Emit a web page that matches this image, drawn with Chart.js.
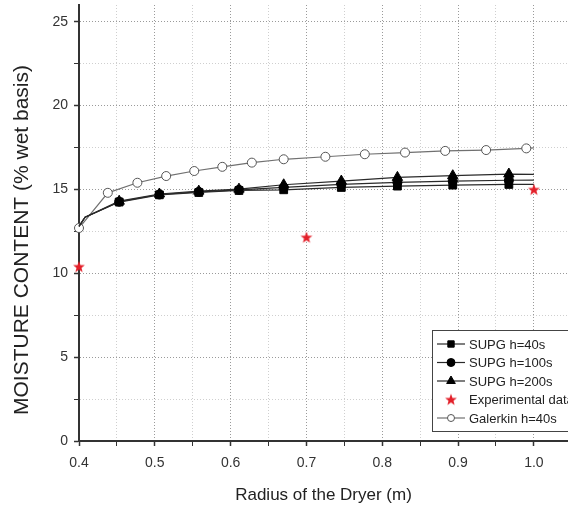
<!DOCTYPE html>
<html>
<head>
<meta charset="utf-8">
<script src="https://cdn.jsdelivr.net/npm/chart.js@4/dist/chart.umd.min.js"></script>
<style>
    html, body { margin: 0; padding: 0; background: #fff; overflow: hidden; }
</style>
</head>
<body>
<canvas id="dryerChart" width="568" height="510"></canvas>
<script>
// radius (m) and moisture content (% wet basis)
const radiusSupg = [0.4, 0.408, 0.453, 0.506, 0.558, 0.611, 0.670, 0.746, 0.820, 0.893, 0.967, 1.0];
const supg40  = [12.8, 13.35, 14.25, 14.68, 14.82, 14.94, 14.98, 15.12, 15.2, 15.26, 15.3, 15.3];
const supg100 = [12.8, 13.35, 14.27, 14.7, 14.86, 14.98, 15.12, 15.3, 15.42, 15.5, 15.55, 15.56];
const supg200 = [12.8, 13.35, 14.3, 14.73, 14.9, 15.02, 15.28, 15.5, 15.72, 15.82, 15.92, 15.9];

const radiusGalerkin = [0.4, 0.438, 0.477, 0.515, 0.552, 0.589, 0.628, 0.670, 0.725, 0.777, 0.830, 0.883, 0.937, 0.990, 1.0];
const galerkin40     = [12.7, 14.8, 15.4, 15.8, 16.1, 16.35, 16.6, 16.8, 16.95, 17.1, 17.2, 17.3, 17.35, 17.45, 17.48];

const radiusExp    = [0.4, 0.7, 1.0];
const experimental = [10.4, 12.15, 15.0];

const xTicks = [0.4, 0.45, 0.5, 0.55, 0.6, 0.65, 0.7, 0.75, 0.8, 0.85, 0.9, 0.95, 1.0];
const yTicks = [0, 2.5, 5, 7.5, 10, 12.5, 15, 17.5, 20, 22.5, 25];

const legendLabels = ["SUPG h=40s", "SUPG h=100s", "SUPG h=200s", "Experimental data", "Galerkin h=40s"];
const yTitle = "MOISTURE CONTENT (% wet basis)";

const FONT = "'Liberation Sans', Arial, sans-serif";
const toPoints = (xs, ys) => xs.map((x, i) => ({ x: x, y: ys[i] }));
const isMajor = (v, step) => Math.abs(v / step - Math.round(v / step)) < 1e-6;

// filled red star marker
const star = document.createElement("canvas");
star.width = 14; star.height = 14;
const sc = star.getContext("2d");
sc.fillStyle = "#e3202a";
sc.beginPath();
for (let i = 0; i < 10; i++) {
    const r = i % 2 ? 2.6 : 6.2;
    const a = -Math.PI / 2 + i * Math.PI / 5;
    sc.lineTo(7 + r * Math.cos(a), 7.5 + r * Math.sin(a));
}
sc.closePath();
sc.fill();

const supgMarker = ctx => (ctx.dataIndex >= 2 && ctx.dataIndex <= 10) ? ctx.dataset.markerSize : 0;

function supgSet(label, data, style, size) {
    return {
        label: label,
        data: toPoints(radiusSupg, data),
        borderColor: "#2a2a2a",
        backgroundColor: "#000",
        pointBorderColor: "#000",
        borderWidth: 1.2,
        pointStyle: style,
        markerSize: size,
        pointRadius: supgMarker,
        pointBorderWidth: 1,
        order: 1,
        clip: false
    };
}

// boxed legend inside the plot (lower right) + rotated y title
const boxLegend = {
    id: "boxLegend",
    afterDatasetsDraw(chart) {
        const c = chart.ctx;
        const left = 432, top = 330, rowH = 18.5;
        c.save();
        c.fillStyle = "#fff";
        c.strokeStyle = "#444";
        c.lineWidth = 1;
        c.fillRect(left, top, 160, 101);
        c.strokeRect(left + 0.5, top + 0.5, 160, 101);
        c.font = "13px " + FONT;
        c.textBaseline = "middle";
        chart.data.datasets.forEach((ds, i) => {
            const y = top + 14 + i * rowH;
            if (ds.showLine !== false) {
                c.strokeStyle = ds.borderColor;
                c.lineWidth = ds.borderWidth;
                c.beginPath();
                c.moveTo(437, y);
                c.lineTo(465, y);
                c.stroke();
            }
            c.fillStyle = ds.backgroundColor;
            c.strokeStyle = ds.pointBorderColor;
            c.lineWidth = ds.pointBorderWidth;
            Chart.helpers.drawPoint(c, {
                pointStyle: ds.pointStyle,
                rotation: 0,
                radius: ds.legendSize,
                borderWidth: ds.pointBorderWidth
            }, 451, y);
            c.fillStyle = "#222";
            c.fillText(legendLabels[i], 469, y + 1);
        });

        c.translate(22, 240);
        c.rotate(-Math.PI / 2);
        c.font = "21px " + FONT;
        c.textAlign = "center";
        c.fillStyle = "#222";
        c.fillText(yTitle, 0, 0);
        c.restore();
    }
};

const datasets = [
    Object.assign(supgSet(legendLabels[0], supg40, "rect", 5.5), { legendSize: 4.5 }),
    Object.assign(supgSet(legendLabels[1], supg100, "circle", 4.5), { legendSize: 4 }),
    Object.assign(supgSet(legendLabels[2], supg200, "triangle", 6), { legendSize: 5 }),
    {
        label: legendLabels[3],
        data: toPoints(radiusExp, experimental),
        showLine: false,
        borderColor: "#e3202a",
        backgroundColor: "#e3202a",
        pointBorderColor: "#e3202a",
        pointBorderWidth: 0,
        pointStyle: star,
        pointRadius: 6,
        legendSize: 6,
        order: 0,
        clip: false
    },
    {
        label: legendLabels[4],
        data: toPoints(radiusGalerkin, galerkin40),
        borderColor: "#707070",
        backgroundColor: "#fff",
        pointBackgroundColor: "#fff",
        pointBorderColor: "#555",
        pointBorderWidth: 1,
        borderWidth: 1.2,
        pointStyle: "circle",
        pointRadius: ctx => ctx.dataIndex === radiusGalerkin.length - 1 ? 0 : 4.5,
        legendSize: 3.5,
        order: 2,
        clip: false
    }
];

new Chart(document.getElementById("dryerChart"), {
    type: "line",
    data: { datasets: datasets },
    plugins: [boxLegend],
    options: {
        responsive: false,
        animation: false,
        layout: { autoPadding: false, padding: { top: 5, right: 0, left: 0, bottom: 0 } },
        plugins: { legend: { display: false }, tooltip: { enabled: false } },
        scales: {
            x: {
                type: "linear",
                min: 0.4,
                max: 1.045,
                afterBuildTicks: axis => { axis.ticks = xTicks.map(v => ({ value: v })); },
                afterFit: scale => {
                    scale.height = 69;
                    scale.paddingLeft = 0;
                    scale.paddingRight = 0;
                },
                ticks: {
                    color: "#333",
                    font: { size: 14, family: FONT },
                    padding: 9,
                    maxRotation: 0,
                    autoSkip: false,
                    callback: v => isMajor(v, 0.1) ? v.toFixed(1) : ""
                },
                grid: {
                    color: ctx => isMajor(ctx.tick.value, 0.1) ? "#9a9a9a" : "#cfcfcf",
                    tickColor: "#333",
                    tickLength: 5,
                    tickWidth: ctx => isMajor(ctx.tick.value, 0.1) ? 1.5 : 1
                },
                border: { color: "#333", width: 2, dash: [1, 2] },
                title: {
                    display: true,
                    text: "Radius of the Dryer (m)",
                    color: "#222",
                    font: { size: 17, family: FONT },
                    padding: { top: 0, bottom: 4 }
                }
            },
            y: {
                min: 0,
                max: 26,
                afterBuildTicks: axis => { axis.ticks = yTicks.map(v => ({ value: v })); },
                afterFit: scale => {
                    scale.width = 79;
                    scale.paddingTop = 0;
                    scale.paddingBottom = 0;
                },
                ticks: {
                    color: "#333",
                    font: { size: 14, family: FONT },
                    padding: 6,
                    callback: v => isMajor(v, 5) ? String(v) : ""
                },
                grid: {
                    color: ctx => isMajor(ctx.tick.value, 5) ? "#9a9a9a" : "#cfcfcf",
                    tickColor: "#333",
                    tickLength: 5,
                    tickWidth: ctx => isMajor(ctx.tick.value, 5) ? 1.5 : 1
                },
                border: { color: "#333", width: 2, dash: [1, 2] }
            }
        }
    }
});
</script>
</body>
</html>
